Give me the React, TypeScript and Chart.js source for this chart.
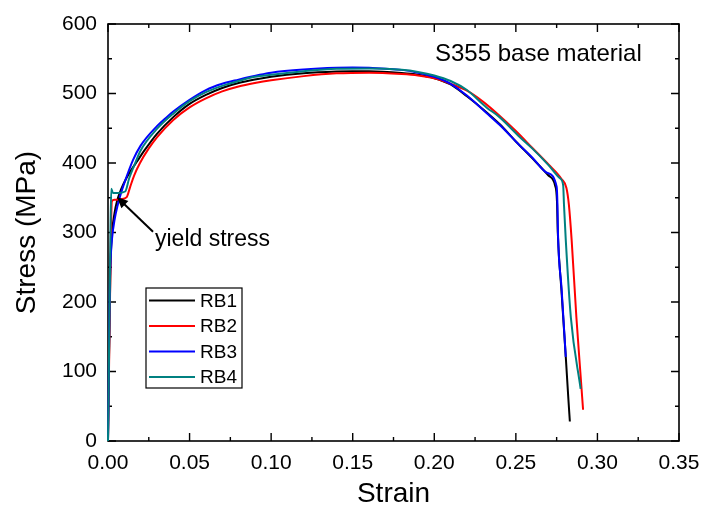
import React, { useEffect, useRef } from "react";
import { Chart, registerables } from "chart.js";

Chart.register(...registerables);

// ---- Data ----
const seriesNames = ["RB1", "RB2", "RB3", "RB4"];
const seriesColors = ["#000000", "#ff0000", "#0000ff", "#008080"];

const rb1Strain = [0, 0.0008, 0.0015, 0.0025, 0.004, 0.0055, 0.008, 0.011, 0.014, 0.018, 0.022, 0.03, 0.04, 0.05, 0.06, 0.07, 0.08, 0.09, 0.10, 0.12, 0.14, 0.15, 0.16, 0.18, 0.19, 0.20, 0.21, 0.22, 0.23, 0.24, 0.25, 0.26, 0.27, 0.274, 0.2752, 0.2757, 0.278, 0.2806, 0.2822, 0.2831];
const rb1Stress = [0, 150, 250, 300, 328, 345, 362, 377, 389, 403, 417, 442, 466, 485, 498, 508, 515, 520, 524, 529, 531.5, 532, 532, 529.5, 527, 522, 513, 496, 477, 456, 431, 407, 382, 368, 345, 300, 215, 121, 60, 28];

const rb2Strain = [0, 0.0006, 0.0012, 0.0018, 0.0024, 0.004, 0.008, 0.0115, 0.0135, 0.016, 0.0196, 0.025, 0.03, 0.04, 0.05, 0.06, 0.07, 0.08, 0.09, 0.10, 0.12, 0.14, 0.16, 0.18, 0.19, 0.20, 0.21, 0.22, 0.23, 0.24, 0.25, 0.26, 0.27, 0.278, 0.281, 0.2825, 0.2842, 0.2871, 0.2895, 0.2912];
const rb2Stress = [0, 100, 200, 300, 345, 347, 348, 351, 365, 382, 400, 421, 437, 462, 480, 493, 503, 510, 515, 519, 525, 529, 530, 528, 526, 522, 514, 504, 488, 468, 446, 422, 398, 377, 364, 340, 289, 178, 100, 45];

const rb3Strain = [0, 0.0004, 0.0008, 0.0012, 0.0018, 0.0025, 0.004, 0.006, 0.008, 0.01, 0.0153, 0.02, 0.03, 0.036, 0.04, 0.05, 0.06, 0.07, 0.08, 0.093, 0.10, 0.12, 0.14, 0.15, 0.16, 0.18, 0.19, 0.20, 0.21, 0.22, 0.232, 0.24, 0.2525, 0.26, 0.269, 0.275, 0.2755, 0.2758, 0.278, 0.2806];
const rb3Stress = [0, 80, 170, 232, 270, 292, 318, 340, 357, 371, 404, 425, 453, 466, 474, 491, 505, 514, 520, 527, 530, 534.5, 537, 537.5, 537, 534, 530, 524, 514, 497, 472, 455, 425, 408, 386, 366, 340, 300, 220, 121];

const rb4Strain = [0, 0.0005, 0.001, 0.0015, 0.002, 0.003, 0.006, 0.0105, 0.013, 0.016, 0.02, 0.03, 0.04, 0.05, 0.06, 0.07, 0.08, 0.09, 0.10, 0.12, 0.14, 0.16, 0.18, 0.19, 0.20, 0.21, 0.22, 0.232, 0.24, 0.2525, 0.26, 0.27, 0.277, 0.279, 0.2795, 0.2806, 0.2837, 0.2897];
const rb4Stress = [0, 100, 200, 300, 363, 357, 357, 359, 378, 396, 418, 449, 471, 489, 502, 511, 518, 524, 527, 532, 535.5, 536, 534, 531, 526, 518, 505, 480, 466, 437, 421, 397, 378, 368, 340, 289, 178, 75];

const xTickValues = [0, 0.05, 0.1, 0.15, 0.2, 0.25, 0.3, 0.35];
const yTickValues = [0, 100, 200, 300, 400, 500, 600];

const titleText = "S355 base material";
const titlePos = { x: 0.3272, y: 557 };
const yieldLabel = "yield stress";
const yieldLabelPos = { x: 0.0288, y: 289 };
const arrowTail = { x: 0.0276, y: 301 };
const arrowHead = { x: 0.0055, y: 351 };

const FONT = "'Liberation Sans', Arial, Helvetica, sans-serif";

const toPoints = (xs: number[], ys: number[]) => xs.map((x, i) => ({ x, y: ys[i] }));

const framePlugin = {
  id: "frameTicks",
  beforeDatasetsDraw(chart: any) {
    const { ctx, chartArea: a, scales } = chart;
    const xs = scales.x;
    const ys = scales.y;
    ctx.save();
    ctx.strokeStyle = "#000";
    ctx.lineWidth = 1.6;
    ctx.strokeRect(a.left, a.top, a.right - a.left, a.bottom - a.top);
    ctx.beginPath();
    ctx.lineWidth = 1.4;
    for (let i = 0; i < xTickValues.length * 2 - 1; i++) {
      const v = i * 0.025;
      const px = xs.getPixelForValue(v);
      const len = i % 2 === 0 ? 8 : 4;
      ctx.moveTo(px, a.bottom);
      ctx.lineTo(px, a.bottom - len);
      ctx.moveTo(px, a.top);
      ctx.lineTo(px, a.top + len);
    }
    for (let i = 0; i < yTickValues.length * 2 - 1; i++) {
      const v = i * 50;
      const py = ys.getPixelForValue(v);
      const len = i % 2 === 0 ? 8 : 4;
      ctx.moveTo(a.left, py);
      ctx.lineTo(a.left + len, py);
      ctx.moveTo(a.right, py);
      ctx.lineTo(a.right - len, py);
    }
    ctx.stroke();
    ctx.restore();
  },
  afterDatasetsDraw(chart: any) {
    const { ctx, chartArea: a, scales } = chart;
    const xs = scales.x;
    const ys = scales.y;
    ctx.save();
    ctx.fillStyle = "#000";
    // Title annotation
    ctx.font = `24px ${FONT}`;
    ctx.textAlign = "right";
    ctx.textBaseline = "middle";
    ctx.fillText(titleText, xs.getPixelForValue(titlePos.x), ys.getPixelForValue(titlePos.y));
    // yield stress label
    ctx.font = `23px ${FONT}`;
    ctx.textAlign = "left";
    ctx.fillText(yieldLabel, xs.getPixelForValue(yieldLabelPos.x), ys.getPixelForValue(yieldLabelPos.y));
    // arrow
    const tx = xs.getPixelForValue(arrowTail.x);
    const ty = ys.getPixelForValue(arrowTail.y);
    const hx = xs.getPixelForValue(arrowHead.x);
    const hy = ys.getPixelForValue(arrowHead.y);
    const ang = Math.atan2(hy - ty, hx - tx);
    const headLen = 11;
    const headW = 5;
    ctx.strokeStyle = "#000";
    ctx.lineWidth = 2;
    ctx.beginPath();
    ctx.moveTo(tx, ty);
    ctx.lineTo(hx - Math.cos(ang) * headLen * 0.8, hy - Math.sin(ang) * headLen * 0.8);
    ctx.stroke();
    ctx.beginPath();
    ctx.moveTo(hx, hy);
    ctx.lineTo(hx - Math.cos(ang) * headLen - Math.sin(ang) * headW, hy - Math.sin(ang) * headLen + Math.cos(ang) * headW);
    ctx.lineTo(hx - Math.cos(ang) * headLen + Math.sin(ang) * headW, hy - Math.sin(ang) * headLen - Math.cos(ang) * headW);
    ctx.closePath();
    ctx.fill();
    // legend box
    const bx = a.left + 38;
    const by = a.top + 264;
    const bw = 96;
    const bh = 100;
    ctx.fillStyle = "#fff";
    ctx.fillRect(bx, by, bw, bh);
    ctx.strokeStyle = "#000";
    ctx.lineWidth = 1.2;
    ctx.strokeRect(bx, by, bw, bh);
    ctx.font = `19px ${FONT}`;
    ctx.textAlign = "left";
    ctx.textBaseline = "middle";
    seriesNames.forEach((name, i) => {
      const cy = by + 12.5 + i * 25.5;
      ctx.strokeStyle = seriesColors[i];
      ctx.lineWidth = 2;
      ctx.beginPath();
      ctx.moveTo(bx + 3, cy);
      ctx.lineTo(bx + 49, cy);
      ctx.stroke();
      ctx.fillStyle = "#000";
      ctx.fillText(name, bx + 54, cy + 1);
    });
    ctx.restore();
  },
};

export default function App() {
  const canvasRef = useRef<HTMLCanvasElement | null>(null);

  useEffect(() => {
    if (!canvasRef.current) return;
    const strains = [rb1Strain, rb2Strain, rb3Strain, rb4Strain];
    const stresses = [rb1Stress, rb2Stress, rb3Stress, rb4Stress];
    const orders = [4, 3, 2, 1];
    const chart = new Chart(canvasRef.current, {
      type: "line",
      data: {
        datasets: seriesNames.map((name, i) => ({
          label: name,
          data: toPoints(strains[i], stresses[i]),
          borderColor: seriesColors[i],
          backgroundColor: seriesColors[i],
          borderWidth: 2,
          pointRadius: 0,
          fill: false,
          cubicInterpolationMode: "monotone" as const,
          clip: false as any,
          order: orders[i],
        })),
      },
      options: {
        responsive: false,
        maintainAspectRatio: false,
        devicePixelRatio: 1,
        animation: false,
        layout: { padding: { top: 24, right: 22, left: 0, bottom: 0 } },
        plugins: { legend: { display: false }, tooltip: { enabled: false } },
        scales: {
          x: {
            type: "linear",
            min: 0,
            max: 0.35,
            afterBuildTicks: (scale: any) => {
              scale.ticks = xTickValues.map((v) => ({ value: v }));
            },
            afterFit: (scale: any) => {
              scale.height = 65;
              scale.paddingLeft = 0;
              scale.paddingRight = 0;
            },
            grid: { display: false, drawTicks: false },
            border: { display: false },
            ticks: {
              padding: 10,
              color: "#000",
              font: { family: FONT, size: 21 },
              callback: (v: any) => Number(v).toFixed(2),
              maxRotation: 0,
              autoSkip: false,
            },
            title: {
              display: true,
              text: "Strain",
              color: "#000",
              font: { family: FONT, size: 28, lineHeight: 1 },
              padding: { top: 0, bottom: -2 },
            },
          },
          y: {
            type: "linear",
            min: 0,
            max: 600,
            afterBuildTicks: (scale: any) => {
              scale.ticks = yTickValues.map((v) => ({ value: v }));
            },
            afterFit: (scale: any) => {
              scale.width = 108;
              scale.paddingTop = 0;
              scale.paddingBottom = 0;
            },
            grid: { display: false, drawTicks: false },
            border: { display: false },
            ticks: {
              padding: 11,
              color: "#000",
              font: { family: FONT, size: 21 },
              autoSkip: false,
            },
            title: {
              display: true,
              text: "Stress (MPa)",
              color: "#000",
              font: { family: FONT, size: 28, lineHeight: 1.2 },
              padding: { top: 10, bottom: 0 },
            },
          },
        },
      },
      plugins: [framePlugin],
    });
    return () => chart.destroy();
  }, []);

  return (
    <div style={{ position: "fixed", left: 0, top: 0, width: 701, height: 506, background: "#fff" }}>
      <canvas ref={canvasRef} width={701} height={506} style={{ display: "block", width: 701, height: 506 }} />
    </div>
  );
}
